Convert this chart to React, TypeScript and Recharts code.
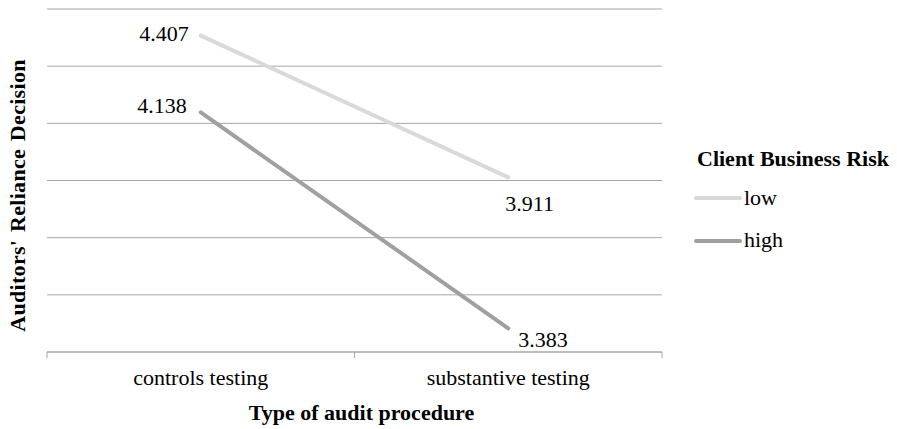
import { LineChart, Line, XAxis, YAxis, CartesianGrid } from 'recharts';

const procedures = ['controls testing', 'substantive testing'];
const lowRisk = [4.407, 3.911];
const highRisk = [4.138, 3.383];
const yTicks = [3.3, 3.5, 3.7, 3.9, 4.1, 4.3, 4.5];

const data = procedures.map((procedure, i) => ({
  procedure,
  low: lowRisk[i],
  high: highRisk[i],
}));

const FONT = "'Liberation Serif', 'Times New Roman', serif";
const GRID = '#a6a6a6';
const textStyle = { fontFamily: FONT, fontSize: 22 };

// label placement around each point, per series: [first point, second point]
const series = [
  {
    key: 'low',
    color: '#d9d9d9',
    labels: [
      { dx: -12, dy: 5, anchor: 'end' },
      { dx: -3, dy: 34, anchor: 'start' },
    ],
  },
  {
    key: 'high',
    color: '#a0a0a0',
    labels: [
      { dx: -14, dy: 1, anchor: 'end' },
      { dx: 10, dy: 19, anchor: 'start' },
    ],
  },
];

const makeLabel = (labels: { dx: number; dy: number; anchor: string }[]) => (props: any) => {
  const { x, y, value, index } = props;
  const l = labels[index] || labels[0];
  return (
    <text
      key={`lbl-${index}`}
      x={x + l.dx}
      y={y + l.dy}
      textAnchor={l.anchor as any}
      style={textStyle}
      fill="#000"
    >
      {Number(value).toFixed(3)}
    </text>
  );
};

const ProcedureTick = (props: any) => {
  const { x, y, payload } = props;
  const half = payload.offset ?? 153.75;
  const last = payload.index === procedures.length - 1;
  return (
    <g>
      <line x1={x - half} y1={y} x2={x - half} y2={y + 6} stroke={GRID} strokeWidth={1} />
      {last && <line x1={x + half} y1={y} x2={x + half} y2={y + 6} stroke={GRID} strokeWidth={1} />}
      <text x={x} y={y + 33} textAnchor="middle" style={textStyle} fill="#000">
        {payload.value}
      </text>
    </g>
  );
};

const XTitle = (props: any) => {
  const { viewBox } = props;
  return (
    <text
      x={viewBox.x + viewBox.width / 2 + 7}
      y={viewBox.y + 68}
      textAnchor="middle"
      style={{ ...textStyle, fontWeight: 'bold' }}
      fill="#000"
    >
      Type of audit procedure
    </text>
  );
};

const YTitle = (props: any) => {
  const { viewBox } = props;
  const cx = viewBox.x - 21;
  const cy = viewBox.y + viewBox.height / 2 + 15;
  return (
    <text
      x={cx}
      y={cy}
      transform={`rotate(-90, ${cx}, ${cy})`}
      textAnchor="middle"
      style={{ ...textStyle, fontWeight: 'bold', letterSpacing: 0.3, wordSpacing: 2 }}
      fill="#000"
    >
      Auditors' Reliance Decision
    </text>
  );
};

const RiskLegend = () => (
  <svg width={207} height={130} style={{ position: 'absolute', left: 690, top: 140 }}>
    <text x={7} y={26} style={{ ...textStyle, fontWeight: 'bold' }} fill="#000">
      Client Business Risk
    </text>
    {series.map((s, i) => (
      <g key={s.key}>
        <line
          x1={6}
          x2={50}
          y1={58 + i * 43}
          y2={58 + i * 43}
          stroke={s.color}
          strokeWidth={4}
          strokeLinecap="round"
        />
        <text x={54} y={65 + i * 42} style={textStyle} fill="#000">
          {s.key}
        </text>
      </g>
    ))}
  </svg>
);

const NoTick = () => <g />;

export default function App() {
  return (
    <div style={{ position: 'absolute', left: 0, top: 0, width: 897, height: 429, background: '#fff' }}>
      <LineChart width={897} height={429} data={data} margin={{ top: 9, right: 235, bottom: 0, left: 46 }}>
        <CartesianGrid vertical={false} stroke={GRID} strokeWidth={1} />
        <XAxis
          dataKey="procedure"
          scale="band"
          height={77}
          axisLine={{ stroke: GRID, strokeWidth: 1 }}
          tickLine={false}
          tickSize={0}
          tickMargin={0}
          tick={<ProcedureTick />}
          interval={0}
          label={<XTitle />}
        />
        <YAxis
          width={1}
          domain={[3.3, 4.5]}
          ticks={yTicks}
          interval={0}
          tick={<NoTick />}
          axisLine={false}
          tickLine={false}
          label={<YTitle />}
        />
        {series.map((s) => (
          <Line
            key={s.key}
            type="linear"
            dataKey={s.key}
            stroke={s.color}
            strokeWidth={4}
            strokeLinecap="round"
            dot={false}
            activeDot={false}
            isAnimationActive={false}
            label={makeLabel(s.labels)}
          />
        ))}
      </LineChart>
      <RiskLegend />
    </div>
  );
}
